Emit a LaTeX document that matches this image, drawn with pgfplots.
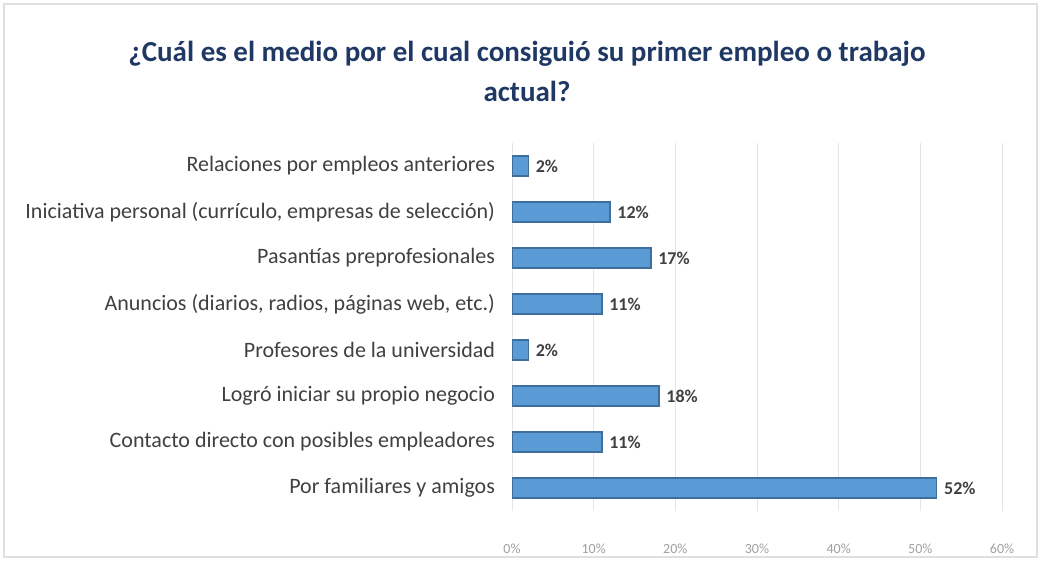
\documentclass[border=0pt]{standalone}
\usepackage{fontspec}
\setmainfont{Carlito}
\usepackage{pgfplots}
\pgfplotsset{compat=1.18}
\definecolor{barfill}{HTML}{5B9BD5}
\definecolor{baredge}{HTML}{3E6E9E}
\definecolor{titleblue}{HTML}{1F3864}
\definecolor{labgray}{HTML}{404040}
\definecolor{tickgray}{HTML}{A0A0A0}
\begin{document}
\begin{tikzpicture}
\begin{axis}[
    name=ax,
    scale only axis,
    width=245pt, height=184pt,
    xbar, bar width=10pt,
    xmin=0, xmax=60,
    ymin=-0.5, ymax=7.5,
    xtick={0,10,...,60},
    xticklabel={\pgfmathprintnumber{\tick}\%},
    xticklabel style={font=\fontsize{7}{8}\selectfont, color=tickgray, yshift=-13pt},
    /pgf/number format/assume math mode=true,
    ytick={0,...,7},
    yticklabels={Por familiares y amigos,
        Contacto directo con posibles empleadores,
        Logró iniciar su propio negocio,
        Profesores de la universidad,
        {Anuncios (diarios, radios, páginas web, etc.)},
        Pasantías preprofesionales,
        {Iniciativa personal (currículo, empresas de selección)},
        Relaciones por empleos anteriores},
    yticklabel style={font=\fontsize{11}{13}\selectfont, color=labgray, xshift=-5pt},
    major tick length=0pt,
    axis line style={draw=none},
    xmajorgrids, grid style={draw=gray!20, line width=0.5pt},
    nodes near coords={\textbf{\pgfmathprintnumber{\pgfplotspointmeta}\%}},
    nodes near coords style={font=\fontsize{9}{10}\selectfont, color=labgray, xshift=0pt},
    point meta=x,
]
\addplot[fill=barfill, draw=baredge, line width=0.8pt] coordinates {
    (52,0) (11,1) (18,2) (2,3) (11,4) (17,5) (12,6) (2,7)};
\end{axis}
\draw[gray!25, line width=0.6pt] ([shift={(-254pt,-23pt)}]ax.south west) rectangle ([shift={(17.5pt,69.5pt)}]ax.north east);
\path[use as bounding box] ([shift={(-256pt,-25pt)}]ax.south west) rectangle ([shift={(19.5pt,71.5pt)}]ax.north east);
\node[align=center, font=\fontsize{14.5}{20}\selectfont\bfseries, color=titleblue]
    at ([shift={(7.5pt,220pt)}]ax.south west) {¿Cuál es el medio por el cual consiguió su primer empleo o trabajo\\actual?};
\end{tikzpicture}
\end{document}
